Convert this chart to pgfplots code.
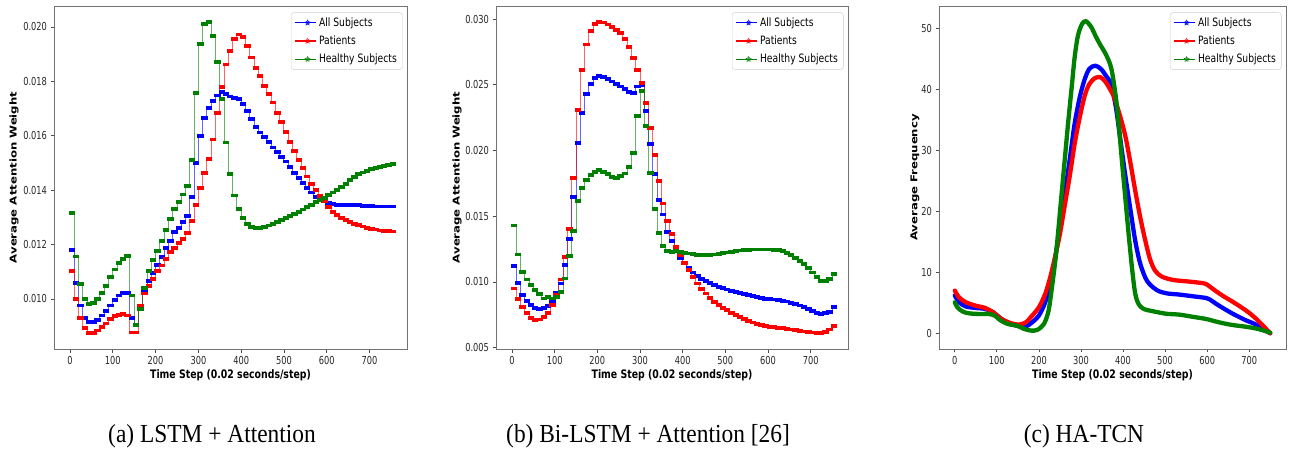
\documentclass[border=0pt]{standalone}
\usepackage{pgfplots}
\pgfplotsset{compat=1.18}
\usepackage{pgfplotstable}
\usepackage{graphicx}
\usepackage{fontspec}
\usetikzlibrary{shapes.geometric}
\newfontfamily\plotfont{DejaVu Sans}[FakeStretch=0.8]
\newfontfamily\tickfont{DejaVu Sans}[FakeStretch=0.75]
\newfontfamily\labfont{DejaVu Sans}
\newfontfamily\capfont{Liberation Serif}[FakeStretch=0.9]
\definecolor{mplgreen}{RGB}{0,128,0}

% panel (a): LSTM + Attention, one value per 10 steps
\pgfplotstableread{
x all pat hea
0 0.01180 0.01104 0.01317
10 0.01060 0.00999 0.01156
20 0.00976 0.00930 0.01055
30 0.00930 0.00892 0.00999
40 0.00914 0.00875 0.00982
50 0.00914 0.00875 0.00984
60 0.00923 0.00884 0.00999
70 0.00939 0.00896 0.01023
80 0.00957 0.00910 0.01048
90 0.00976 0.00926 0.01082
100 0.00996 0.00936 0.01108
110 0.01013 0.00942 0.01131
120 0.01023 0.00945 0.01147
130 0.01022 0.00939 0.01157
140 0.00930 0.00877 0.01013
150 0.00904 0.00877 0.00904
160 0.00970 0.00976 0.00962
170 0.01030 0.01020 0.01040
180 0.01067 0.01049 0.01103
190 0.01094 0.01074 0.01143
200 0.01126 0.01104 0.01177
210 0.01153 0.01123 0.01212
220 0.01186 0.01147 0.01253
230 0.01214 0.01172 0.01294
240 0.01245 0.01186 0.01330
250 0.01260 0.01205 0.01355
260 0.01282 0.01221 0.01384
270 0.01306 0.01241 0.01416
280 0.01374 0.01288 0.01510
290 0.01500 0.01346 0.01757
300 0.01600 0.01408 0.01938
310 0.01665 0.01462 0.02012
320 0.01702 0.01515 0.02018
330 0.01727 0.01586 0.01966
340 0.01748 0.01684 0.01870
350 0.01762 0.01778 0.01735
360 0.01754 0.01862 0.01575
370 0.01744 0.01913 0.01458
380 0.01740 0.01955 0.01380
390 0.01735 0.01972 0.01330
400 0.01716 0.01962 0.01297
410 0.01690 0.01930 0.01276
420 0.01661 0.01888 0.01265
430 0.01632 0.01850 0.01262
440 0.01612 0.01820 0.01262
450 0.01594 0.01783 0.01264
460 0.01576 0.01752 0.01270
470 0.01557 0.01722 0.01277
480 0.01540 0.01685 0.01284
490 0.01523 0.01650 0.01291
500 0.01505 0.01615 0.01298
510 0.01486 0.01578 0.01305
520 0.01462 0.01545 0.01313
530 0.01444 0.01511 0.01321
540 0.01425 0.01480 0.01329
550 0.01407 0.01450 0.01338
560 0.01391 0.01423 0.01346
570 0.01376 0.01401 0.01355
580 0.01366 0.01379 0.01363
590 0.01358 0.01358 0.01372
600 0.01352 0.01337 0.01381
610 0.01348 0.01321 0.01391
620 0.01346 0.01308 0.01401
630 0.01345 0.01298 0.01412
640 0.01344 0.01290 0.01424
650 0.01345 0.01283 0.01436
660 0.01345 0.01277 0.01448
670 0.01344 0.01271 0.01458
680 0.01343 0.01266 0.01465
690 0.01342 0.01262 0.01471
700 0.01341 0.01258 0.01477
710 0.01340 0.01255 0.01482
720 0.01340 0.01252 0.01486
730 0.01340 0.01250 0.01490
740 0.01340 0.01249 0.01493
750 0.01340 0.01248 0.01495
}\dataA

% panel (b): Bi-LSTM + Attention
\pgfplotstableread{
x all pat hea
0 0.01123 0.00951 0.01429
10 0.00994 0.00868 0.01209
20 0.00900 0.00807 0.01075
30 0.00855 0.00761 0.01019
40 0.00824 0.00728 0.00976
50 0.00804 0.00710 0.00938
60 0.00794 0.00715 0.00907
70 0.00799 0.00735 0.00875
80 0.00817 0.00766 0.00887
90 0.00850 0.00824 0.00875
100 0.00918 0.00900 0.00883
110 0.00989 0.01019 0.00926
120 0.01128 0.01191 0.01027
130 0.01330 0.01406 0.01197
140 0.01647 0.01794 0.01386
150 0.02058 0.02311 0.01614
160 0.02286 0.02615 0.01716
170 0.02432 0.02807 0.01774
180 0.02508 0.02909 0.01812
190 0.02554 0.02964 0.01837
200 0.02569 0.02979 0.01850
210 0.02559 0.02974 0.01837
220 0.02544 0.02959 0.01819
230 0.02526 0.02939 0.01799
240 0.02508 0.02919 0.01792
250 0.02488 0.02893 0.01804
260 0.02468 0.02850 0.01825
270 0.02445 0.02787 0.01875
280 0.02437 0.02706 0.01984
290 0.02488 0.02615 0.02263
300 0.02496 0.02513 0.02453
310 0.02298 0.02361 0.02184
320 0.02052 0.02174 0.01830
330 0.01820 0.01964 0.01553
340 0.01622 0.01769 0.01373
350 0.01513 0.01597 0.01272
360 0.01381 0.01465 0.01237
370 0.01310 0.01364 0.01230
380 0.01245 0.01267 0.01235
390 0.01180 0.01201 0.01228
400 0.01145 0.01146 0.01222
410 0.01105 0.01090 0.01216
420 0.01072 0.01039 0.01210
430 0.01045 0.00989 0.01205
440 0.01022 0.00948 0.01203
450 0.01005 0.00912 0.01203
460 0.00990 0.00880 0.01205
470 0.00976 0.00850 0.01209
480 0.00963 0.00825 0.01214
490 0.00952 0.00804 0.01219
500 0.00942 0.00785 0.01225
510 0.00933 0.00766 0.01230
520 0.00924 0.00749 0.01235
530 0.00915 0.00733 0.01240
540 0.00906 0.00718 0.01243
550 0.00898 0.00704 0.01246
560 0.00891 0.00691 0.01247
570 0.00884 0.00681 0.01247
580 0.00878 0.00672 0.01247
590 0.00873 0.00665 0.01247
600 0.00869 0.00660 0.01247
610 0.00866 0.00655 0.01246
620 0.00862 0.00651 0.01244
630 0.00858 0.00647 0.01236
640 0.00852 0.00643 0.01222
650 0.00843 0.00638 0.01204
660 0.00832 0.00633 0.01183
670 0.00821 0.00628 0.01160
680 0.00808 0.00623 0.01135
690 0.00794 0.00619 0.01105
700 0.00780 0.00616 0.01072
710 0.00765 0.00614 0.01035
720 0.00758 0.00614 0.01008
730 0.00762 0.00622 0.01005
740 0.00773 0.00638 0.01023
750 0.00808 0.00668 0.01063
}\dataB

\pgfplotsset{
  panel/.style={
    scale only axis, height=343pt,
    xmin=-37.5, xmax=787.5,
    xtick={0,100,200,300,400,500,600,700},
    scaled y ticks=false,
    tick align=outside, xtick pos=bottom, ytick pos=left,
    major tick length=3.5pt,
    every tick/.style={black!70, line width=0.7pt},
    axis line style={black!55, line width=0.8pt},
    ticklabel style={font=\tickfont\fontsize{11}{13}\selectfont, text=black!85},
    /pgf/number format/assume math mode=true,
    xlabel={Time Step (0.02 seconds/step)},
    every axis x label/.style={at={(rel axis cs:0.5,0)}, yshift=-26pt, anchor=center,
      font=\plotfont\bfseries\fontsize{11.7}{14}\selectfont, text=black},
    every axis y label/.style={at={(rel axis cs:0,0.5)}, xshift=-#1, rotate=90, anchor=center,
      font=\labfont\bfseries\fontsize{11.7}{14}\selectfont, text=black},
    legend cell align=left,
    legend style={at={(rel axis cs:1,1)}, anchor=north east, xshift=-4.5pt, yshift=-6.5pt,
      draw=black!20, rounded corners=2.5pt, fill=white,
      font=\plotfont\fontsize{11.5}{13}\selectfont, row sep=4pt,
      inner xsep=3.5pt, inner ysep=3pt},
    legend image code/.code={
      \draw[##1, line width=1.3pt] (0pt,0pt) -- (21pt,0pt);
      \node[##1, fill, draw=none, star, star points=5, star point ratio=2.2,
        inner sep=0pt, minimum size=4.5pt] at (10.5pt,0pt) {};
    },
  },
  steps/.style={const plot, line width=1pt, opacity=0.6, forget plot},
  bars/.style={only marks, mark=-, mark size=3.2pt,
    mark options={line width=3.8pt, xshift=1.9pt}, forget plot},
  band/.style={line width=4.3pt, smooth, line join=round, line cap=round, forget plot},
}

\begin{document}
\begin{tikzpicture}
\useasboundingbox (0,0) rectangle (1293pt,450pt);

% (a)
\begin{axis}[panel=40pt, at={(54pt,101pt)}, anchor=south west, width=353pt,
  ymin=0.00816, ymax=0.02077,
  ytick={0.010,0.012,0.014,0.016,0.018,0.020},
  yticklabel style={/pgf/number format/.cd, fixed, fixed zerofill, precision=3},
  ylabel={\scalebox{1}[0.8]{Average Attention Weight}}]
\addplot[blue, steps] table[x=x, y=all] {\dataA};
\addplot[blue, bars] table[x=x, y=all] {\dataA};
\addplot[red, steps] table[x=x, y=pat] {\dataA};
\addplot[red, bars] table[x=x, y=pat] {\dataA};
\addplot[mplgreen, steps] table[x=x, y=hea] {\dataA};
\addplot[mplgreen, bars] table[x=x, y=hea] {\dataA};
\addlegendimage{blue}\addlegendentry{All Subjects}
\addlegendimage{red}\addlegendentry{Patients}
\addlegendimage{mplgreen}\addlegendentry{Healthy Subjects}
\end{axis}

% (b)
\begin{axis}[panel=39pt, at={(496pt,101pt)}, anchor=south west, width=352pt,
  ymin=0.0049, ymax=0.0310,
  ytick={0.005,0.010,0.015,0.020,0.025,0.030},
  yticklabel style={/pgf/number format/.cd, fixed, fixed zerofill, precision=3},
  ylabel={\scalebox{1}[0.8]{Average Attention Weight}}]
\addplot[blue, steps] table[x=x, y=all] {\dataB};
\addplot[blue, bars] table[x=x, y=all] {\dataB};
\addplot[red, steps] table[x=x, y=pat] {\dataB};
\addplot[red, bars] table[x=x, y=pat] {\dataB};
\addplot[mplgreen, steps] table[x=x, y=hea] {\dataB};
\addplot[mplgreen, bars] table[x=x, y=hea] {\dataB};
\addlegendimage{blue}\addlegendentry{All Subjects}
\addlegendimage{red}\addlegendentry{Patients}
\addlegendimage{mplgreen}\addlegendentry{Healthy Subjects}
\end{axis}

% (c)
\begin{axis}[panel=24pt, at={(939pt,101pt)}, anchor=south west, width=347pt,
  ymin=-2.58, ymax=53.7,
  ytick={0,10,20,30,40,50},
  ylabel={\scalebox{1}[0.8]{Average Frequency}}]
\addplot[blue, band] coordinates {
(0,6.2) (10,5.1) (26,4.4) (49,4.16) (72,4.0) (91,3.45) (111,2.35) (134,1.53)
(157,1.09) (169,1.09) (184,1.8) (200,2.9) (215,5.09) (227,8.1) (239,12.5)
(250,17.4) (262,22.9) (274,28.9) (285,34.4) (297,38.7) (309,41.7) (320,43.4)
(334,43.9) (347,43.4) (359,42.3) (371,40.9) (383,37.1) (394,31.6) (406,25.6)
(418,20.1) (429,15.2) (441,11.4) (457,8.6) (480,7.1) (503,6.56) (534,6.35)
(566,6.07) (597,5.8) (605,5.6) (628,4.54) (659,3.28) (690,2.19) (713,1.53)
(732,0.71) (750,0)};
\addplot[red, band] coordinates {
(0,7.0) (10,5.9) (26,5.1) (49,4.54) (72,4.16) (91,3.45) (111,2.35) (134,1.64)
(153,1.42) (169,1.8) (184,2.9) (200,4.27) (215,6.46) (227,9.2) (239,12.7)
(250,16.3) (262,21.2) (274,26.1) (285,31.1) (297,35.4) (309,39.0) (320,40.9)
(334,41.9) (347,42.0) (359,41.2) (371,39.8) (379,38.7) (394,35.4) (406,32.2)
(418,27.8) (429,23.4) (441,19.0) (453,15.2) (464,12.2) (476,10.3) (492,9.3)
(519,8.75) (550,8.53) (581,8.3) (597,8.1) (613,7.3) (636,6.2) (667,4.9)
(698,3.45) (721,2.08) (750,0)};
\addplot[mplgreen, band] coordinates {
(0,5.09) (6,4.27) (18,3.6) (33,3.28) (57,3.17) (80,3.17) (95,2.9) (107,2.19)
(126,1.53) (150,1.2) (165,0.71) (181,0.44) (196,0.55) (212,1.53) (223,3.72)
(231,7.55) (239,11.9) (246,16.8) (254,22.9) (262,28.9) (270,34.9) (278,40.4)
(285,45.3) (293,48.9) (303,50.8) (312,51.2) (324,50.3) (336,48.6) (347,47.2)
(359,45.8) (372,43.5) (383,38.7) (391,33.3) (398,27.8) (406,21.8) (414,15.8)
(422,10.3) (429,6.5) (437,4.8) (449,4.0) (472,3.6) (503,3.2) (534,3.06)
(566,2.7) (597,2.35) (628,1.8) (659,1.37) (690,1.09) (721,0.71) (750,0.1)};
\addlegendimage{blue}\addlegendentry{All Subjects}
\addlegendimage{red}\addlegendentry{Patients}
\addlegendimage{mplgreen}\addlegendentry{Healthy Subjects}
\end{axis}

\node[font=\capfont\fontsize{26}{30}\selectfont] at (212pt,14pt) {(a) LSTM + Attention};
\node[font=\capfont\fontsize{26}{30}\selectfont] at (648pt,14pt) {(b) Bi-LSTM + Attention [26]};
\node[font=\capfont\fontsize{26}{30}\selectfont] at (1084pt,14pt) {(c) HA-TCN};
\end{tikzpicture}
\end{document}
